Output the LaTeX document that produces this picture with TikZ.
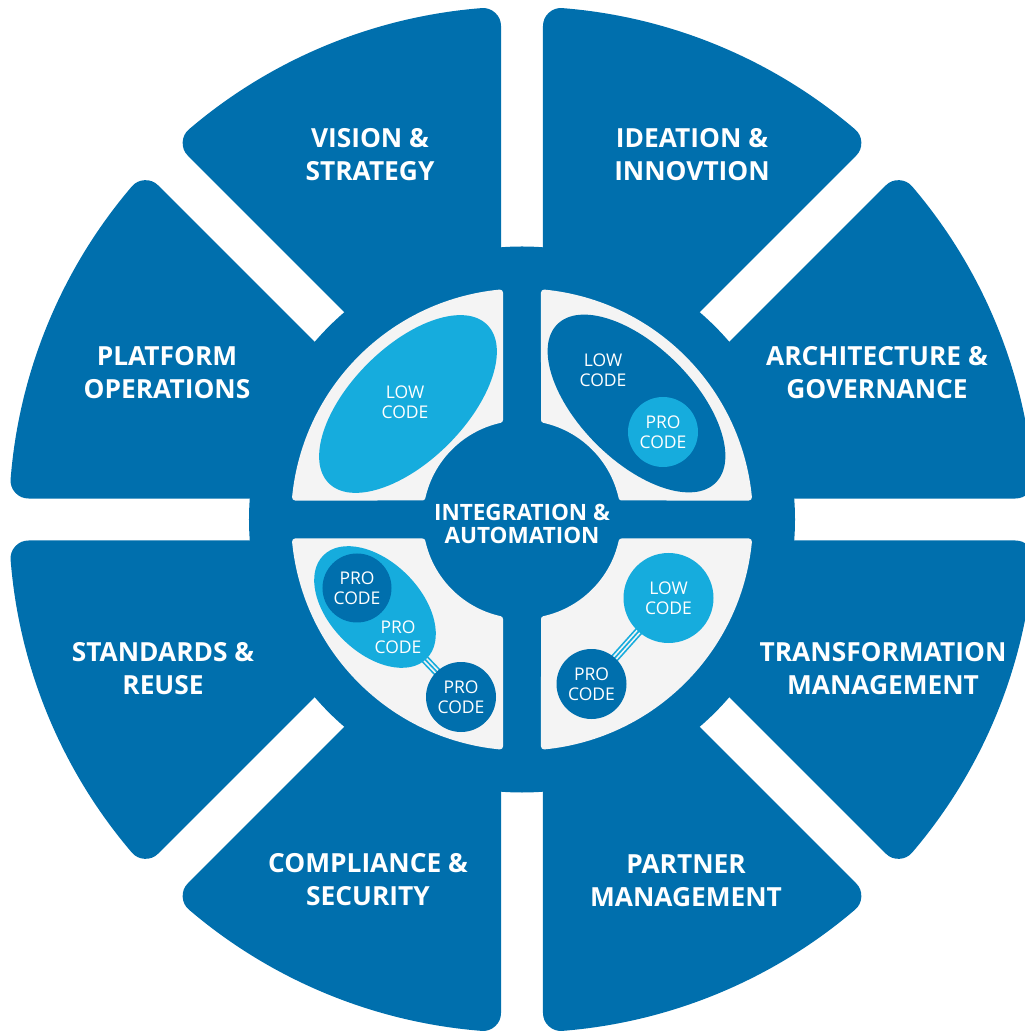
\documentclass[tikz,border=0pt]{standalone}
\usepackage{fontspec}
\setmainfont{Open Sans}
\usetikzlibrary{shapes.geometric}
\definecolor{segblue}{RGB}{0,111,173}
\definecolor{lblue}{RGB}{22,172,221}
\definecolor{qgray}{RGB}{244,244,244}
\pgfdeclarelayer{bg}
\pgfdeclarelayer{mid}
\pgfsetlayers{bg,mid,main}
\begin{document}
\begin{tikzpicture}[x=1pt,y=1pt,
  seglabel/.style={text=white, font=\bfseries\fontsize{26.3}{33}\selectfont, align=center},
  hublabel/.style={text=white, font=\bfseries\fontsize{22.5}{23.4}\selectfont, align=center},
  codelabel/.style={text=white, font=\fontsize{17.5}{19.5}\selectfont, align=center, inner sep=0pt},
  codecircle/.style={circle, inner sep=0pt, minimum size=#1, text=white, font=\fontsize{17.5}{19.5}\selectfont, align=center},
  codeellipse/.style={ellipse, inner sep=0pt},
  link/.style={preaction={draw=lblue, line width=8.5pt}, draw=qgray, line width=1.7pt, double=lblue, double distance=1.7pt}
]
\useasboundingbox (-522,-512.5) rectangle (502,519.5);

\begin{pgfonlayer}{bg}
  \foreach \k in {0,...,7}{
    \pgfmathsetmacro\aa{45*\k+4.519}
    \pgfmathsetmacro\ab{45*\k+40.481}
    \pgfmathsetmacro\am{45*\k+22.5}
    \filldraw[segblue, line width=36pt, line join=round]
      (\am:101.9) -- (\aa:495) arc[start angle=\aa, end angle=\ab, radius=495] -- cycle;
  }
  \fill[segblue] (0,0) circle[radius=273];
  \foreach \q in {0,...,3}{
    \pgfmathsetmacro\qa{90*\q+5.537}
    \pgfmathsetmacro\qb{90*\q+84.463}
    \pgfmathsetmacro\qc{90*\q+77.543}
    \pgfmathsetmacro\qd{90*\q+12.457}
    \filldraw[qgray, line width=6pt, line join=round]
      (\qa:228) arc[start angle=\qa, end angle=\qb, radius=228]
      -- (\qc:102) arc[start angle=\qc, end angle=\qd, radius=102] -- cycle;
  }
\end{pgfonlayer}

% outer segment labels
\node[seglabel] (vision)   at (-152,364.5) {VISION \&\\STRATEGY};
\node[seglabel] (ideation) at (170,364.5)  {IDEATION \&\\INNOVTION};
\node[seglabel] (platform) at (-355,147) {PLATFORM\\OPERATIONS};
\node[seglabel] (arch)     at (355,147)  {ARCHITECTURE \&\\GOVERNANCE};
\node[seglabel] (standards) at (-359,-149) {STANDARDS \&\\REUSE};
\node[seglabel] (transf)   at (361,-149) {TRANSFORMATION\\MANAGEMENT};
\node[seglabel] (compl)    at (-154,-360) {COMPLIANCE \&\\SECURITY};
\node[seglabel] (partner)  at (164,-361) {PARTNER\\MANAGEMENT};

% hub label
\node[hublabel] (hub) at (0,-4.5) {INTEGRATION \&\\AUTOMATION};

% top-left quadrant
\node[codeellipse, fill=lblue, minimum width=224pt, minimum height=114pt, rotate=45] (lc1) at (-114,115.5) {};
\node[codelabel] (lc1t) at (-117,117.5) {LOW\\CODE};

% top-right quadrant
\node[codeellipse, fill=segblue, minimum width=224pt, minimum height=114pt, rotate=-45] (lc2) at (114.5,116) {};
\node[codelabel] (lc2t) at (81,149.5) {LOW\\CODE};
\node[codecircle=70pt, fill=lblue] (pc2) at (141,87.5) {PRO\\CODE};

% bottom-left quadrant
\node[codeellipse, fill=lblue, minimum width=146pt, minimum height=91pt, rotate=-45] (lc3) at (-147,-87.5) {};
\node[codecircle=69pt, fill=segblue] (pc3a) at (-165,-68.5) {PRO\\CODE};
\node[codelabel] (pc3t) at (-124,-117.5) {PRO\\CODE};
\node[codecircle=70pt, fill=segblue] (pc3b) at (-61,-177.5) {PRO\\CODE};

% bottom-right quadrant
\node[codecircle=90pt, fill=lblue] (lc4) at (146.5,-78.5) {LOW\\CODE};
\node[codecircle=70pt, fill=segblue] (pc4) at (69.5,-164.5) {PRO\\CODE};

\begin{pgfonlayer}{mid}
  \draw[link] (lc3.center) -- (pc3b.center);
  \draw[link] (lc4.center) -- (pc4.center);
\end{pgfonlayer}
\end{tikzpicture}
\end{document}
